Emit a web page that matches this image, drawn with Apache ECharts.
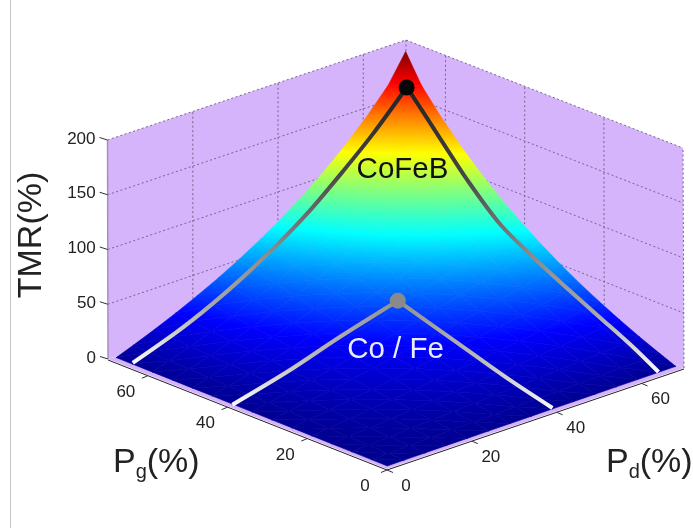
<!DOCTYPE html>
<html><head><meta charset="utf-8">
<style>html,body{margin:0;padding:0;background:#fff}#c{width:693px;height:528px}</style>
<script src="https://cdn.jsdelivr.net/npm/echarts@6/dist/echarts.min.js"></script>
</head><body><div id="c"></div>
<script>
// ---- data ----
var pgTicks = [0, 20, 40, 60];
var pdTicks = [0, 20, 40, 60];
var tmrTicks = [0, 50, 100, 150, 200];
var gridPg = [1, 5, 10, 15, 20, 25, 30, 35, 40, 45, 50, 55, 60, 65, 69];
var gridPd = [1, 5, 10, 15, 20, 25, 30, 35, 40, 45, 50, 55, 60, 65, 69];
var tmrTable = [
 [0.02,0.1,0.2,0.3,0.4,0.5,0.6,0.7,0.8,0.9,1.0,1.1,1.2,1.3,1.4],
 [0.1,0.5,1.0,1.5,2.0,2.5,3.0,3.6,4.1,4.6,5.1,5.7,6.2,6.7,7.3],
 [0.2,1.0,2.0,3.0,4.1,5.1,6.2,7.3,8.3,9.4,10.5,11.6,12.8,13.9,15.1],
 [0.3,1.5,3.0,4.6,6.2,7.8,9.4,11.1,12.8,14.5,16.2,18.0,19.8,21.6,23.5],
 [0.4,2.0,4.1,6.2,8.3,10.5,12.8,15.1,17.4,19.8,22.2,24.7,27.3,29.9,32.6],
 [0.5,2.5,5.1,7.8,10.5,13.3,16.2,19.2,22.2,25.4,28.6,31.9,35.3,38.8,42.4],
 [0.6,3.0,6.2,9.4,12.8,16.2,19.8,23.5,27.3,31.2,35.3,39.5,43.9,48.4,53.2],
 [0.7,3.6,7.3,11.1,15.1,19.2,23.5,27.9,32.6,37.4,42.4,47.7,53.2,58.9,64.9],
 [0.8,4.1,8.3,12.8,17.4,22.2,27.3,32.6,38.1,43.9,50.0,56.4,63.2,70.3,77.8],
 [0.9,4.6,9.4,14.5,19.8,25.4,31.2,37.4,43.9,50.8,58.1,65.8,74.0,82.7,92.0],
 [1.0,5.1,10.5,16.2,22.2,28.6,35.3,42.4,50.0,58.1,66.7,75.9,85.7,96.3,107.7],
 [1.1,5.7,11.6,18.0,24.7,31.9,39.5,47.7,56.4,65.8,75.9,86.7,98.5,111.3,125.2],
 [1.2,6.2,12.8,19.8,27.3,35.3,43.9,53.2,63.2,74.0,85.7,98.5,112.5,127.9,144.8],
 [1.3,6.7,13.9,21.6,29.9,38.8,48.4,58.9,70.3,82.7,96.3,111.3,127.9,146.3,167.0],
 [1.4,7.3,15.1,23.5,32.6,42.4,53.2,64.9,77.8,92.0,107.7,125.2,144.8,167.0,192.2]
];
// annotation curves: CoFeB and Co / Fe branches (Pg, Pd, TMR)
var cofebLeftPg  = [64, 64, 64, 64, 64, 64, 64, 64, 64];
var cofebLeftPd  = [0.2, 10.6, 18.4, 26.2, 34.2, 42, 49.7, 56.8, 64.6];
var cofebLeftTmr = [4.8, 19.4, 32.9, 49, 67.8, 89.4, 114.9, 140.2, 172];
var cofebRightPg  = [64, 61.9, 54.9, 47.8, 39.8, 31.5, 23, 14.7, 6.4, 0];
var cofebRightPd  = [64.6, 64, 64, 64, 64, 64, 64, 64, 64, 64];
var cofebRightTmr = [172, 168.4, 139.2, 110, 82.3, 64, 47.9, 32.9, 17.8, 4.2];
var cofeLeftPg  = [39, 39, 39, 39];
var cofeLeftPd  = [0.2, 13.8, 25.6, 39.2];
var cofeLeftTmr = [2.5, 16.2, 31, 46];
var cofeRightPg  = [39, 24.2, 10.7, 0];
var cofeRightPd  = [39.2, 39, 39, 39];
var cofeRightTmr = [46, 29.9, 14.5, 4.3];
var dotPg = [64, 39], dotPd = [64.6, 39.2], dotTmr = [172, 46];

// ---- view box of the 3-D scene ----
var AXMAX = 70, ZMAX = 200, CLIM = 192;
var C = { O:[387,469], L:[108,359], R:[684,368], B:[405,258],
          OT:[386,248], LT:[107.5,140], RT:[683,148], BT:[406,40] };
function scene(pg, pd, z) {
  var u = pg / AXMAX, v = pd / AXMAX, w = z / ZMAX, r = [];
  for (var k = 0; k < 2; k++) {
    var f = (1-u)*(1-v)*C.O[k] + u*(1-v)*C.L[k] + (1-u)*v*C.R[k] + u*v*C.B[k];
    var t = (1-u)*(1-v)*C.OT[k] + u*(1-v)*C.LT[k] + (1-u)*v*C.RT[k] + u*v*C.BT[k];
    r.push(f + (t - f) * w);
  }
  return r;
}
var JET = [[0,[0,0,143]],[.125,[0,0,255]],[.375,[0,255,255]],[.625,[255,255,0]],[.875,[255,0,0]],[1,[128,0,0]]];
function jet(v) {
  var t = Math.max(0, Math.min(1, v / CLIM));
  for (var i = 1; i < JET.length; i++) if (t <= JET[i][0]) {
    var a = JET[i-1], b = JET[i], q = (t - a[0]) / (b[0] - a[0]);
    return 'rgb(' + [0,1,2].map(function (k) { return Math.round(a[1][k] + (b[1][k] - a[1][k]) * q); }).join(',') + ')';
  }
  return 'rgb(128,0,0)';
}
function triFill(p, v) {
  var vmin = Math.min(v[0],v[1],v[2]), vmax = Math.max(v[0],v[1],v[2]);
  var det = (p[1][0]-p[0][0])*(p[2][1]-p[0][1]) - (p[2][0]-p[0][0])*(p[1][1]-p[0][1]);
  if (vmax - vmin < 1e-6 || Math.abs(det) < 1e-6) return jet(v[0]);
  var gx = ((v[1]-v[0])*(p[2][1]-p[0][1]) - (v[2]-v[0])*(p[1][1]-p[0][1])) / det;
  var gy = ((v[2]-v[0])*(p[1][0]-p[0][0]) - (v[1]-v[0])*(p[2][0]-p[0][0])) / det;
  var g2 = gx*gx + gy*gy, m = p[v.indexOf(vmin)], k = (vmax - vmin) / g2;
  var stops = [{offset:0, color:jet(vmin)}];
  JET.forEach(function (s) {
    var val = s[0] * CLIM;
    if (val > vmin && val < vmax) stops.push({offset:(val-vmin)/(vmax-vmin), color:jet(val)});
  });
  stops.push({offset:1, color:jet(vmax)});
  return new echarts.graphic.LinearGradient(m[0], m[1], m[0]+gx*k, m[1]+gy*k, stops, true);
}
function P(api, pg, pd, z) { return api.coord(scene(pg, pd, z)); }

// ---- surface triangles, back to front ----
var triRows = [];
for (var i = gridPg.length - 2; i >= 0; i--) for (var j = gridPd.length - 2; j >= 0; j--) {
  var a=[gridPg[i+1],gridPd[j+1],tmrTable[i+1][j+1]], b=[gridPg[i+1],gridPd[j],tmrTable[i+1][j]],
      c=[gridPg[i],gridPd[j+1],tmrTable[i][j+1]], d=[gridPg[i],gridPd[j],tmrTable[i][j]];
  triRows.push(a.concat(b,c));
  triRows.push(d.concat(b,c));
}

var WALL = '#d5b4fb', DOT = '#75658c', TICKFONT = '17px "Liberation Sans", Arial, sans-serif';
function layer(name, rows, draw) {
  return { name:name, type:'custom', coordinateSystem:'cartesian2d', data:rows, renderItem:draw,
           silent:true, clip:false, animation:false, progressive:0,
           encode:{x:0, y:1} };
}
function polyOf(api, pts, lw, stroke, dash) {
  return { type:'polyline', shape:{points:pts}, silent:true,
           style:{stroke:stroke, fill:null, lineWidth:lw, lineDash:dash||null} };
}
function curveSeries(name, pg, pd, tmr, stops, lw) {
  var rows = pg.map(function (_, n) { return [pg[n], pd[n], tmr[n]]; });
  return layer(name, rows.length ? [[0,0]] : [], function (params, api) {
    var pts = rows.map(function (r) { return P(api, r[0], r[1], r[2]); });
    var ys = pts.map(function (q) { return q[1]; });
    var y0 = Math.min.apply(null, ys), y1 = Math.max.apply(null, ys);
    var grad = new echarts.graphic.LinearGradient(0, y0, 0, y1, stops, true);
    return { type:'polyline', shape:{points:pts, smooth:0.3}, silent:true,
             style:{stroke:grad, fill:null, lineWidth:lw, lineCap:'butt', lineJoin:'round'} };
  });
}
var DARK = [{offset:0,color:'#222'},{offset:.3,color:'#444'},{offset:.58,color:'#888'},{offset:.8,color:'#aaa'},{offset:1,color:'#fafafa'}];
var LIGHT = [{offset:0,color:'#909090'},{offset:.55,color:'#bbb'},{offset:1,color:'#f8f8f8'}];

var series = [
  layer('walls', [[0,0]], function (params, api) {
    var kids = [];
    [[[AXMAX,0,0],[AXMAX,AXMAX,0],[AXMAX,AXMAX,ZMAX],[AXMAX,0,ZMAX]],
     [[0,AXMAX,0],[AXMAX,AXMAX,0],[AXMAX,AXMAX,ZMAX],[0,AXMAX,ZMAX]],
     [[0,0,0],[AXMAX,0,0],[AXMAX,AXMAX,0],[0,AXMAX,0]]].forEach(function (q) {
      kids.push({type:'polygon', shape:{points:q.map(function (s) { return P(api,s[0],s[1],s[2]); })}, style:{fill:WALL}});
    });
    return {type:'group', children:kids};
  }),
  layer('tmrGrid', tmrTicks.map(function (t) { return [0, t]; }), function (params, api) {
    var z = api.value(1);
    if (z === 0) return null;
    return polyOf(api, [P(api,AXMAX,0,z), P(api,AXMAX,AXMAX,z), P(api,0,AXMAX,z)], 1, DOT, [2,2.5]);
  }),
  layer('pdGrid', pdTicks.concat([AXMAX]).map(function (t) { return [t, 0]; }), function (params, api) {
    var t = api.value(0);
    if (t === 0) return null;
    return polyOf(api, [P(api,AXMAX,t,0), P(api,AXMAX,t,ZMAX)], 1, DOT, [2,2.5]);
  }),
  layer('pgGrid', pgTicks.map(function (t) { return [t, 0]; }), function (params, api) {
    var t = api.value(0);
    return polyOf(api, [P(api,t,AXMAX,0), P(api,t,AXMAX,ZMAX)], 1, DOT, [2,2.5]);
  }),
  layer('edge', [[0,0]], function (params, api) {
    return polyOf(api, [P(api,AXMAX,0,0), P(api,AXMAX,0,ZMAX)], 1.4, '#a08fb6');
  }),
  layer('surface', triRows, function (params, api) {
    var p=[], v=[];
    for (var n = 0; n < 3; n++) {
      var z = api.value(n*3+2);
      p.push(P(api, api.value(n*3), api.value(n*3+1), z));
      v.push(z);
    }
    var fill = triFill(p, v);
    return {type:'polygon', shape:{points:p}, silent:true, style:{fill:fill, stroke:fill, lineWidth:0.6}};
  }),
  layer('axisLines', [[0,0]], function (params, api) {
    var a = P(api,AXMAX,0,0), o = P(api,0,0,0), r = P(api,0,AXMAX,0);
    return polyOf(api, [[a[0],a[1]+1],[o[0],o[1]+1],[r[0],r[1]+1]], 1, '#222');
  }),
  layer('pgTicks', pgTicks.map(function (t) { return [t, 0]; }), function (params, api) {
    var t = api.value(0), q = P(api,t,0,0);
    return {type:'group', children:[
      polyOf(api, [[q[0],q[1]+1],[q[0]-6,q[1]+3.5]], 1, '#333'),
      {type:'text', style:{x:q[0]-22, y:q[1]+17.5, text:String(t), fill:'#222', font:TICKFONT, textAlign:'center', textVerticalAlign:'middle'}}
    ]};
  }),
  layer('pdTicks', pdTicks.map(function (t) { return [t, 0]; }), function (params, api) {
    var t = api.value(0), q = P(api,0,t,0);
    return {type:'group', children:[
      polyOf(api, [[q[0],q[1]+1],[q[0]+6,q[1]+3.5]], 1, '#333'),
      {type:'text', style:{x:q[0]+19, y:q[1]+17, text:String(t), fill:'#222', font:TICKFONT, textAlign:'center', textVerticalAlign:'middle'}}
    ]};
  }),
  layer('tmrTicks', tmrTicks.map(function (t) { return [0, t]; }), function (params, api) {
    var t = api.value(1), q = P(api,AXMAX,0,t);
    return {type:'group', children:[
      polyOf(api, [q,[q[0]-8,q[1]-2.5]], 1, '#333'),
      {type:'text', style:{x:q[0]-12, y:q[1]-1, text:String(t), fill:'#222', font:TICKFONT, textAlign:'right', textVerticalAlign:'middle'}}
    ]};
  }),
  curveSeries('cofebL', cofebLeftPg, cofebLeftPd, cofebLeftTmr, DARK, 4),
  curveSeries('cofebR', cofebRightPg, cofebRightPd, cofebRightTmr, DARK, 4),
  curveSeries('cofeL', cofeLeftPg, cofeLeftPd, cofeLeftTmr, LIGHT, 4),
  curveSeries('cofeR', cofeRightPg, cofeRightPd, cofeRightTmr, LIGHT, 4),
  layer('dots', dotPg.map(function (_, n) { return [dotPg[n], dotPd[n], dotTmr[n], n]; }), function (params, api) {
    var q = P(api, api.value(0), api.value(1), api.value(2));
    return {type:'circle', shape:{cx:q[0], cy:q[1], r:8}, silent:true, style:{fill: api.value(3) === 0 ? '#060606' : '#8a8a8a'}};
  })
];

var font = '"Liberation Sans", Arial, sans-serif';
function titleRich(sub) {
  return { text:'{a|P}{b|' + sub + '}{a|(%)}', fill:'#222',
    rich:{ a:{fontFamily:font, fontSize:34, fill:'#222', verticalAlign:'bottom', lineHeight:44, padding:[0,0,2,0]},
           b:{fontFamily:font, fontSize:20, fill:'#222', verticalAlign:'bottom', lineHeight:44} } };
}
var chart = echarts.init(document.getElementById('c'), null, {renderer:'canvas', width:693, height:528});
chart.setOption({
  animation:false,
  backgroundColor:'#fff',
  grid:{left:0, right:0, top:0, bottom:0},
  xAxis:{type:'value', min:0, max:693, show:false},
  yAxis:{type:'value', min:0, max:528, inverse:true, show:false},
  tooltip:{show:false},
  series:series,
  graphic:[
    {type:'line', silent:true, z:50, shape:{x1:10.5,y1:0,x2:10.5,y2:528}, style:{stroke:'#c4c4c4', lineWidth:1}},
    {type:'text', silent:true, z:50, x:32, y:235, rotation:Math.PI/2,
      style:{text:'TMR(%)', font:'34px '+font, fill:'#222', textAlign:'center', textVerticalAlign:'middle'}},
    {type:'text', silent:true, z:50, x:113, y:438, style:titleRich('g')},
    {type:'text', silent:true, z:50, x:606, y:438, style:titleRich('d')},
    {type:'text', silent:true, z:50, x:402.5, y:170,
      style:{text:'CoFeB', font:'29.5px '+font, fill:'#111', textAlign:'center', textVerticalAlign:'middle'}},
    {type:'text', silent:true, z:50, x:395.5, y:350,
      style:{text:'Co / Fe', font:'29.5px '+font, fill:'#e8ecff', textAlign:'center', textVerticalAlign:'middle'}}
  ]
});
</script></body></html>
